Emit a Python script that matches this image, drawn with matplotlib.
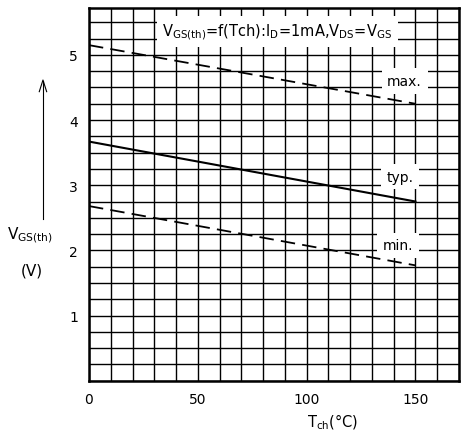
import numpy as np
import matplotlib
matplotlib.use("Agg")
from matplotlib import pyplot as plt

# channel temperature (deg C) and threshold voltage (V)
t_ch = [0, 150]
v_max = [5.15, 4.25]
v_typ = [3.67, 2.75]
v_min = [2.68, 1.77]

x_ticks = [0, 50, 100, 150]
y_ticks = [1, 2, 3, 4, 5]

fig = plt.figure(figsize=(4.62, 4.31), dpi=100)
ax = fig.add_axes([0.1926, 0.1144, 0.8009, 0.8647])

ax.set_xlim(0, 170)
ax.set_ylim(0, 5.72)

ax.set_xticks(x_ticks)
ax.set_yticks(y_ticks)
ax.set_xticks(np.arange(0, 171, 10), minor=True)
ax.set_yticks(np.arange(0, 5.72, 0.25), minor=True)
ax.grid(which='both', color='black', linewidth=1.0)
ax.tick_params(which='both', length=0, labelsize=10, pad=8)
for s in ax.spines.values():
    s.set_linewidth(1.8)
    s.set_zorder(5)

ax.plot(t_ch, v_max, color='black', lw=1.3, ls=(0, (8, 4)), zorder=2.2)
ax.plot(t_ch, v_typ, color='black', lw=1.5, zorder=2.2)
ax.plot(t_ch, v_min, color='black', lw=1.3, ls=(0, (8, 4)), zorder=2.2)

box = dict(facecolor='white', edgecolor='none', pad=4)
ax.text(145, 4.6, 'max.', fontsize=10, ha='center', va='center', bbox=box, zorder=2)
ax.text(143, 3.13, 'typ.', fontsize=10, ha='center', va='center', bbox=box, zorder=2)
ax.text(142, 2.08, 'min.', fontsize=10, ha='center', va='center', bbox=box, zorder=2)
ax.text(86.5, 5.36, r'V$_{\rm GS(th)}$=f(Tch):I$_{\rm D}$=1mA,V$_{\rm DS}$=V$_{\rm GS}$',
        fontsize=10.5, ha='center', va='center', zorder=2,
        bbox=dict(facecolor='white', edgecolor='none', pad=4))

fig.text(0.065, 0.455, r'V$_{\rm GS(th)}$', fontsize=11, ha='center', va='center')
fig.text(0.068, 0.372, '(V)', fontsize=11, ha='center', va='center')
fig.add_artist(plt.Line2D([0.093, 0.093], [0.49, 0.81], color='black', lw=0.8))
fig.add_artist(plt.Line2D([0.085, 0.093, 0.101], [0.785, 0.812, 0.785], color='black', lw=0.8))

fig.text(0.72, 0.02, r'T$_{\rm ch}$(°C)', fontsize=10.5, ha='center', va='center')

fig.savefig('out.png', dpi=100)
